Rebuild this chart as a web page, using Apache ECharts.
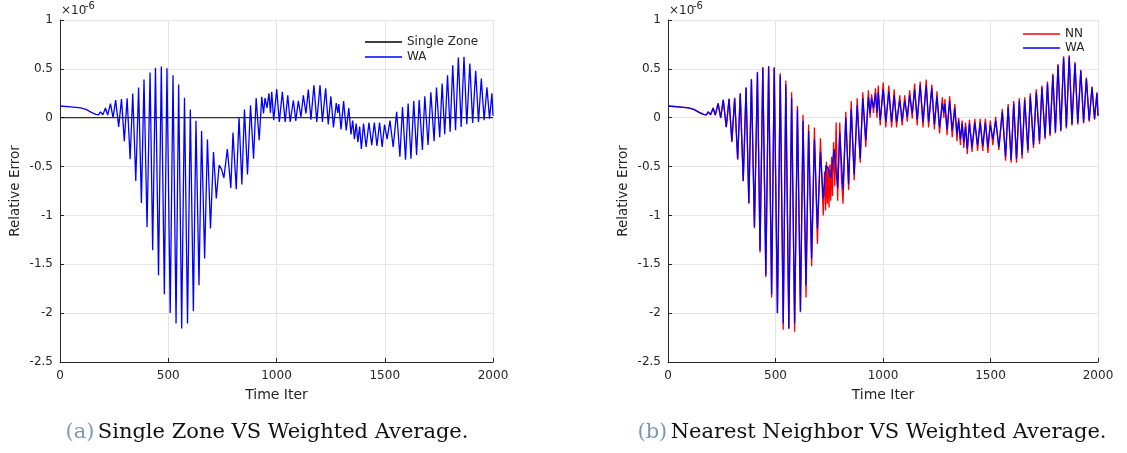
<!DOCTYPE html>
<html><head><meta charset="utf-8">
<script src="https://cdn.jsdelivr.net/npm/echarts@6/dist/echarts.min.js"></script>
<style>html,body{margin:0;padding:0;background:#fff}#c{width:1127px;height:453px}</style>
</head><body><div id="c"></div>
<script>
// ---- data (values in units of 1e-6) ----
const xTicks = [0, 500, 1000, 1500, 2000];
const xTickLabels = ['0', '500', '1000', '1500', '2000'];
const yTicks = [1, 0.5, 0, -0.5, -1, -1.5, -2, -2.5];
const yTickLabels = ['1', '0.5', '0', '-0.5', '-1', '-1.5', '-2', '-2.5'];

const szIter = [0, 2000];
const szVal = [0, 0];

const waIter = [0,50,95,120,145,165,178,187,198,210,220,233,245,257,271,284,297,310,324,336,350,363,376,388,402,416,428,441,455,468,482,494,509,522,536,548,562,575,589,602,616,628,642,654,668,681,695,709,722,735,745,757,773,789,799,814,827,840,852,866,880,894,906,920,932,940,947,956,965,972,978,987,1001,1013,1027,1040,1052,1063,1078,1089,1101,1113,1124,1136,1147,1159,1173,1186,1201,1212,1227,1239,1251,1263,1276,1283,1288,1298,1310,1322,1334,1344,1352,1360,1368,1376,1384,1392,1402,1414,1427,1440,1452,1464,1476,1488,1499,1511,1524,1539,1555,1570,1582,1596,1608,1621,1634,1647,1659,1674,1685,1700,1713,1728,1739,1754,1765,1777,1790,1802,1814,1827,1840,1853,1866,1879,1893,1906,1920,1933,1946,1959,1972,1984,1995,2000];
const waVal = [0.12,0.11,0.10,0.085,0.055,0.035,0.03,0.06,0.03,0.10,0.026,0.145,0.0,0.18,-0.094,0.19,-0.24,0.20,-0.425,0.247,-0.647,0.309,-0.872,0.39,-1.118,0.462,-1.356,0.51,-1.612,0.524,-1.807,0.505,-1.998,0.435,-2.107,0.34,-2.158,0.205,-2.107,0.084,-1.98,-0.03,-1.714,-0.135,-1.44,-0.223,-1.134,-0.35,-0.827,-0.486,-0.52,-0.616,-0.322,-0.718,-0.152,-0.732,0.0,-0.684,0.085,-0.58,0.128,-0.42,0.2,-0.23,0.213,0.043,0.2,0.1,0.25,0.05,0.264,-0.026,0.292,-0.043,0.264,-0.043,0.23,-0.043,0.179,-0.033,0.172,0.008,0.23,0.043,0.289,-0.02,0.333,-0.043,0.333,-0.043,0.30,-0.07,0.22,-0.10,0.15,0.05,0.14,-0.12,0.17,-0.13,0.10,-0.17,-0.03,-0.22,-0.06,-0.25,-0.09,-0.32,-0.06,-0.30,-0.05,-0.28,-0.05,-0.29,-0.05,-0.30,-0.07,-0.22,-0.03,-0.30,0.06,-0.40,0.11,-0.43,0.145,-0.42,0.17,-0.38,0.18,-0.33,0.22,-0.28,0.26,-0.24,0.31,-0.20,0.35,-0.17,0.435,-0.145,0.537,-0.128,0.616,-0.094,0.623,-0.067,0.555,-0.053,0.48,-0.043,0.40,-0.026,0.31,-0.01,0.25,0.02];

const nnIter = [0,50,95,120,145,165,178,187,198,210,220,233,245,257,271,284,297,310,324,336,350,363,376,388,402,416,428,441,455,468,482,494,509,522,536,548,562,575,589,602,616,628,642,654,668,681,695,709,722,728,733,737,741,745,749,753,757,761,765,770,776,782,789,799,806,814,827,840,852,866,880,894,906,920,932,940,947,956,965,972,978,987,1001,1013,1027,1040,1052,1063,1078,1089,1101,1113,1124,1136,1147,1159,1173,1186,1201,1212,1227,1239,1251,1263,1276,1283,1288,1298,1310,1322,1334,1344,1352,1360,1368,1376,1384,1392,1402,1414,1427,1440,1452,1464,1476,1488,1499,1511,1524,1539,1555,1570,1582,1596,1608,1621,1634,1647,1659,1674,1685,1700,1713,1728,1739,1754,1765,1777,1790,1802,1814,1827,1840,1853,1866,1879,1893,1906,1920,1933,1946,1959,1972,1984,1995,2000];
const nnVal = [0.12,0.11,0.10,0.085,0.055,0.035,0.03,0.06,0.03,0.10,0.026,0.15,-0.005,0.185,-0.10,0.195,-0.25,0.205,-0.43,0.25,-0.65,0.31,-0.88,0.395,-1.13,0.47,-1.38,0.52,-1.63,0.53,-1.84,0.52,-2.0,0.455,-2.17,0.38,-2.16,0.26,-2.19,0.12,-1.99,0.03,-1.84,-0.07,-1.52,-0.10,-1.29,-0.21,-1.0,-0.55,-0.95,-0.45,-0.88,-0.5,-0.92,-0.48,-0.85,-0.40,-0.80,-0.25,-0.70,-0.05,-0.85,-0.05,-0.6,-0.88,0.06,-0.74,0.17,-0.64,0.20,-0.46,0.26,-0.30,0.28,0.0,0.24,0.05,0.30,0.0,0.33,-0.08,0.36,-0.10,0.33,-0.10,0.29,-0.10,0.23,-0.08,0.23,-0.04,0.28,-0.01,0.35,-0.08,0.37,-0.10,0.39,-0.10,0.34,-0.12,0.27,-0.16,0.21,0.0,0.19,-0.18,0.22,-0.20,0.14,-0.24,0.0,-0.28,-0.03,-0.31,-0.05,-0.37,-0.02,-0.35,-0.01,-0.34,-0.01,-0.34,-0.01,-0.36,-0.03,-0.28,0.01,-0.33,0.09,-0.44,0.14,-0.46,0.17,-0.46,0.20,-0.42,0.21,-0.36,0.25,-0.31,0.29,-0.27,0.33,-0.22,0.37,-0.19,0.45,-0.16,0.55,-0.14,0.63,-0.11,0.64,-0.08,0.57,-0.07,0.49,-0.06,0.41,-0.04,0.32,-0.02,0.26,0.02];

const captionA = ['(a)', 'Single Zone VS Weighted Average.'];
const captionB = ['(b)', 'Nearest Neighbor VS Weighted Average.'];

const colors = {'Single Zone': '#000000', 'WA': '#0000ff', 'NN': '#ff0000'};

// ---- build ----
const pair = (xs, ys) => xs.map((x, i) => [x, ys[i]]);
const FF = 'DejaVu Sans';
const TXT = '#262626';
const fmtX = v => { const i = xTicks.indexOf(v); return i >= 0 ? xTickLabels[i] : ''; };
const fmtY = v => { const i = yTicks.findIndex(t => Math.abs(t - v) < 1e-9); return i >= 0 ? yTickLabels[i] : ''; };

const grids = [
  {left: 60, top: 20, width: 433, height: 342},
  {left: 668, top: 20, width: 430, height: 342}
];
const xAxes = [0, 1].map(i => ({
  gridIndex: i, type: 'value', min: 0, max: 2000, interval: 500,
  name: 'Time Iter', nameLocation: 'middle', nameGap: 26,
  nameTextStyle: {fontFamily: FF, fontSize: 14, color: TXT},
  axisLine: {onZero: false, lineStyle: {color: TXT, width: 1}},
  axisTick: {inside: true, length: 4, lineStyle: {color: TXT}},
  axisLabel: {fontFamily: FF, fontSize: 12, color: TXT, margin: 8, formatter: fmtX},
  splitLine: {show: true, lineStyle: {color: '#e4e4e4', width: 1}}
}));
const yAxes = [0, 1].map(i => ({
  gridIndex: i, type: 'value', min: -2.5, max: 1, interval: 0.5,
  name: 'Relative Error', nameLocation: 'middle', nameGap: 38,
  nameTextStyle: {fontFamily: FF, fontSize: 13.5, color: TXT},
  axisLine: {show: true, onZero: false, lineStyle: {color: TXT, width: 1}},
  axisTick: {show: true, inside: true, length: 4, lineStyle: {color: TXT}},
  axisLabel: {fontFamily: FF, fontSize: 12, color: TXT, margin: 7, formatter: fmtY},
  splitLine: {show: true, lineStyle: {color: '#e4e4e4', width: 1}}
}));

const lineSeries = (name, xs, ys, gi, z, w) => ({
  name, type: 'line', xAxisIndex: gi, yAxisIndex: gi, data: pair(xs, ys),
  symbol: 'none', showSymbol: false, smooth: false, z: z,
  lineStyle: {color: colors[name], width: w}, itemStyle: {color: colors[name]}, emphasis: {disabled: true}
});

const legendItems = names => names.map(n => ({
  name: n, icon: 'rect',
  itemStyle: {color: colors[n], borderWidth: 0, opacity: 1}
}));
const legendCommon = {
  orient: 'vertical', itemWidth: 37, itemHeight: 1.5, padding: 0,
  itemStyle: {borderWidth: 0},
  lineStyle: {width: 0},
  textStyle: {fontFamily: FF, fontSize: 12, color: TXT, lineHeight: 14, height: 14}
};

const option = {
  animation: false,
  backgroundColor: '#ffffff',
  grid: grids,
  xAxis: xAxes,
  yAxis: yAxes,
  legend: [
    Object.assign({}, legendCommon, {left: 365, top: 35, itemGap: 1, data: legendItems(['Single Zone', 'WA'])}),
    Object.assign({}, legendCommon, {left: 1023, top: 27, itemGap: 0, data: legendItems(['NN', 'WA'])})
  ],
  series: [
    lineSeries('Single Zone', szIter, szVal, 0, 2, 1),
    lineSeries('WA', waIter, waVal, 0, 3, 1.3),
    lineSeries('NN', nnIter, nnVal, 1, 2, 1.3),
    lineSeries('WA', waIter, waVal, 1, 3, 1.3)
  ],
  graphic: [
    {type: 'text', left: 61, top: 5, style: {text: '×10', fontFamily: FF, fontSize: 12, fill: TXT}},
    {type: 'text', left: 85, top: 1, style: {text: '-6', fontFamily: FF, fontSize: 10, fill: TXT}},
    {type: 'text', left: 669, top: 5, style: {text: '×10', fontFamily: FF, fontSize: 12, fill: TXT}},
    {type: 'text', left: 693, top: 1, style: {text: '-6', fontFamily: FF, fontSize: 10, fill: TXT}},
    {type: 'text', x: 267, y: 433, style: {
      text: '{a|' + captionA[0] + '} {b|' + captionA[1] + '}', align: 'center', verticalAlign: 'middle',
      rich: {a: {fontFamily: 'DejaVu Serif', fontSize: 21, fill: '#7b97b2'}, b: {fontFamily: 'DejaVu Serif', fontSize: 21, fill: '#111'}}}},
    {type: 'text', x: 872, y: 433, style: {
      text: '{a|' + captionB[0] + '} {b|' + captionB[1] + '}', align: 'center', verticalAlign: 'middle',
      rich: {a: {fontFamily: 'DejaVu Serif', fontSize: 21, fill: '#7b97b2'}, b: {fontFamily: 'DejaVu Serif', fontSize: 21, fill: '#111'}}}}
  ]
};
const chart = echarts.init(document.getElementById('c'), null, {renderer: 'canvas'});
chart.setOption(option);
</script></body></html>
